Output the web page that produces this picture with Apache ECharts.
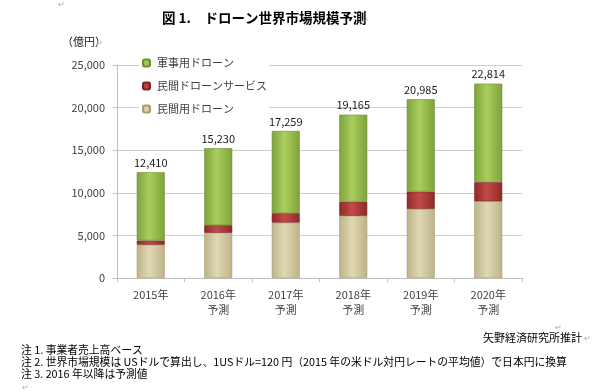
<!DOCTYPE html>
<html><head><meta charset="utf-8">
<script src="https://cdn.jsdelivr.net/npm/echarts@6/dist/echarts.min.js"></script>
<style>html,body{margin:0;padding:0;background:#fff}#c{width:600px;height:392px}</style>
</head><body><div id="c"></div>
<script>
const categories = ['2015年', '2016年\n予測', '2017年\n予測', '2018年\n予測', '2019年\n予測', '2020年\n予測'];
const civilianDrones = [3900, 5300, 6500, 7300, 8100, 9000];
const droneServices = [500, 900, 1100, 1650, 2050, 2250];
const militaryDrones = [8010, 9030, 9659, 10215, 10835, 11564];
const totals = [12410, 15230, 17259, 19165, 20985, 22814];
const seriesNames = ['軍事用ドローン', '民間ドローンサービス', '民間用ドローン'];
const notes = [
  '注 1. 事業者売上高ベース',
  '注 2. 世界市場規模は USドルで算出し、1USドル=120 円（2015 年の米ドル対円レートの平均値）で日本円に換算',
  '注 3. 2016 年以降は予測値'
];
const titleText = '図 1.　ドローン世界市場規模予測';
const unitText = '（億円）';
const sourceText = '矢野経済研究所推計';

const FONT = '"Noto Sans CJK JP", "Noto Sans", sans-serif';
function grad(edge, mid) {
  return new echarts.graphic.LinearGradient(0, 0, 1, 0, [
    { offset: 0, color: edge }, { offset: 0.45, color: mid }, { offset: 1, color: edge }
  ]);
}
const ret = (x, y) => ({ type: 'text', left: x, top: y, style: { text: '↵', fill: '#aaa', font: '8px ' + FONT } });

const chart = echarts.init(document.getElementById('c'), null, { renderer: 'canvas' });
chart.setOption({
  animation: false,
  backgroundColor: '#fff',
  grid: { left: 117, right: 78, top: 65, bottom: 114 },
  legend: {
    data: seriesNames,
    orient: 'vertical',
    left: 139, top: 53,
    padding: [3, 2, 3, 3],
    backgroundColor: '#fff',
    itemWidth: 7, itemHeight: 7, itemGap: 9,
    textStyle: { fontFamily: FONT, fontSize: 11, color: '#404040', lineHeight: 14, padding: [0, 0, 0, 2] }
  },
  xAxis: {
    type: 'category', data: categories,
    axisLine: { lineStyle: { color: '#bfbfbf' } },
    axisTick: { show: true, length: 4, lineStyle: { color: '#bfbfbf' } },
    axisLabel: { fontFamily: FONT, fontSize: 11, color: '#404040', lineHeight: 15, margin: 9 }
  },
  yAxis: {
    type: 'value', min: 0, max: 25000, interval: 5000,
    axisLine: { show: true, lineStyle: { color: '#bfbfbf' } },
    axisTick: { show: true, length: 4, lineStyle: { color: '#bfbfbf' } },
    splitLine: { lineStyle: { color: '#cfcfcf' } },
    axisLabel: { fontFamily: FONT, fontSize: 11, color: '#404040', margin: 12,
      formatter: v => v.toLocaleString('en-US') }
  },
  series: [
    { name: seriesNames[2], type: 'bar', stack: 't', barWidth: 28, data: civilianDrones,
      itemStyle: { color: grad('#bdb387', '#e0d8b4'), borderColor: '#a89e74', borderWidth: 0.6 } },
    { name: seriesNames[1], type: 'bar', stack: 't', barWidth: 28, data: droneServices,
      itemStyle: { color: grad('#8c2a2a', '#c44a48'), borderColor: '#7a2424', borderWidth: 0.6 } },
    { name: seriesNames[0], type: 'bar', stack: 't', barWidth: 28, data: militaryDrones,
      itemStyle: { color: grad('#7ea23a', '#a8cf5e'), borderColor: '#6f8f33', borderWidth: 0.6 },
      label: { show: true, position: 'top', distance: 4, fontFamily: FONT, fontSize: 11, color: '#1a1a1a',
        formatter: p => totals[p.dataIndex].toLocaleString('en-US') } }
  ],
  graphic: [
    { type: 'text', left: 162, top: 11, style: { text: titleText, fill: '#000', font: 'bold 13.5px ' + FONT } },
    { type: 'text', left: 62, top: 36, style: { text: unitText, fill: '#222', font: '11px ' + FONT } },
    { type: 'text', right: 18, top: 332, style: { text: sourceText, fill: '#000', font: '11px ' + FONT } },
    { type: 'text', left: 21, top: 345, style: { text: notes[0], fill: '#000', font: '10.8px ' + FONT } },
    { type: 'text', left: 21, top: 357, style: { text: notes[1], fill: '#000', font: '10.8px ' + FONT } },
    { type: 'text', left: 21, top: 369, style: { text: notes[2], fill: '#000', font: '10.8px ' + FONT } },
    ret(58, 0), ret(362, 16), ret(96, 39), ret(555, 323), ret(584, 334), ret(22, 383)
  ]
});
</script></body></html>
